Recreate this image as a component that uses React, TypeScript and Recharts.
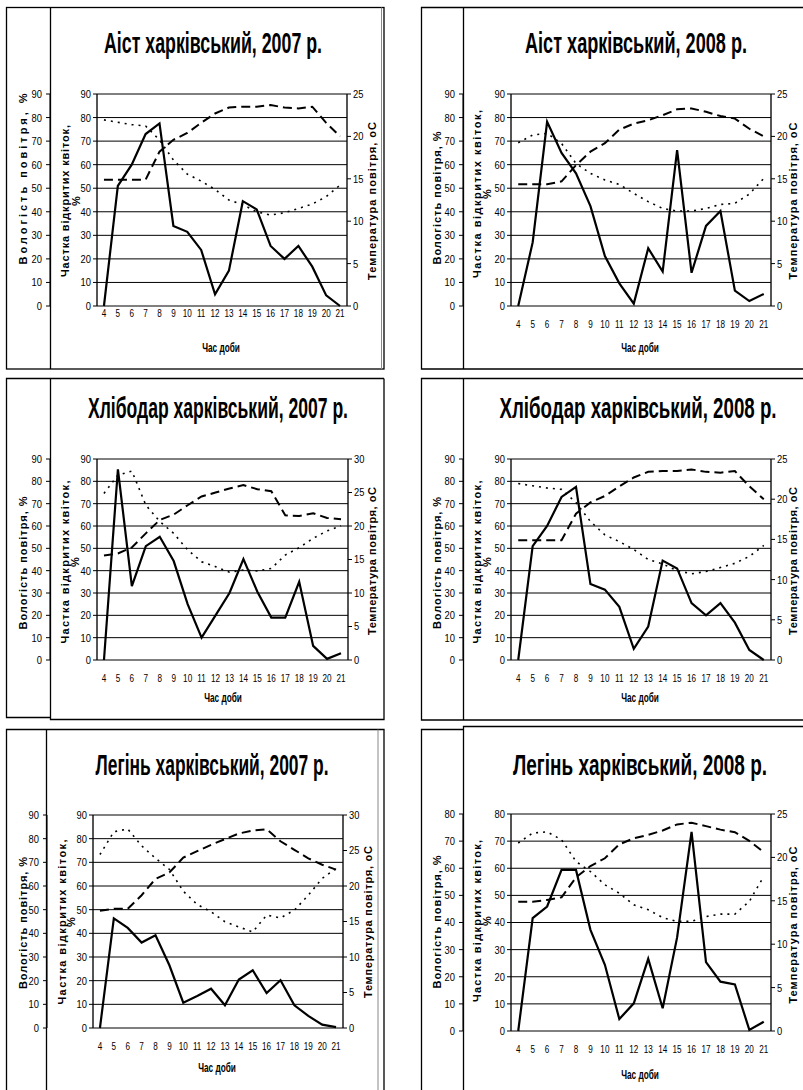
import React from 'react'
import { CartesianGrid, Line, LineChart, XAxis, YAxis } from 'recharts'

// hours of the day (category axis) and the grid boundaries between them
const HOURS = [4, 5, 6, 7, 8, 9, 10, 11, 12, 13, 14, 15, 16, 17, 18, 19, 20, 21]
const HOUR_BOUNDS = [...HOURS.map((h) => h - 0.5), 21.5]

const TICKS_90 = [0, 10, 20, 30, 40, 50, 60, 70, 80, 90]
const TICKS_80 = [0, 10, 20, 30, 40, 50, 60, 70, 80]
const TICKS_25 = [0, 5, 10, 15, 20, 25]
const TICKS_30 = [0, 5, 10, 15, 20, 25, 30]

// Аіст харківський, 2007 (same readings appear for Хлібодар 2008)
const AIST07_FLOWERS = [0, 51, 60, 73, 77.5, 34, 31.5, 23.8, 5, 15, 44.5, 41, 25.5, 20, 25.5, 16.7, 4.5, 0]
const AIST07_HUMIDITY = [79, 78, 77, 76.4, 70.5, 62, 56, 53, 49.5, 45, 43, 40, 38.6, 39.6, 41.4, 43.3, 46.4, 51.3]
const AIST07_TEMP = [14.9, 14.9, 14.9, 14.9, 18.2, 19.6, 20.4, 21.6, 22.7, 23.4, 23.5, 23.5, 23.7, 23.4, 23.3, 23.5, 21.6, 20.0]

// Аіст харківський, 2008
const AIST08_FLOWERS = [0, 27, 78.2, 65, 56.3, 42.4, 21.2, 9.6, 1, 24.5, 14.6, 66.2, 14.1, 34, 40.3, 6.5, 2.1, 5.1]
const AIST08_HUMIDITY = [69.3, 72.6, 73.3, 69, 60.5, 56.3, 53.5, 51.6, 47.8, 44.3, 41.4, 40.3, 40.3, 41.4, 43.1, 43.6, 47.5, 54.2]
const AIST08_TEMP = [14.35, 14.35, 14.35, 14.7, 16.6, 18.2, 19.2, 20.8, 21.5, 21.9, 22.5, 23.2, 23.3, 22.9, 22.4, 22.1, 20.9, 20.0]

// Хлібодар харківський, 2007
const KHLIB07_FLOWERS = [0, 85.4, 33.1, 51, 55.2, 44.3, 25, 10, 20, 30, 45.2, 30.6, 19, 19, 35, 6.3, 0.5, 3]
const KHLIB07_HUMIDITY = [74.6, 82.8, 84.6, 69.4, 62, 56.7, 49.3, 44, 41.8, 39.3, 40.3, 39.9, 41, 47, 50.3, 54.5, 57.8, 60.1]
const KHLIB07_TEMP = [15.6, 15.9, 16.8, 18.9, 20.9, 21.7, 23.1, 24.4, 25.0, 25.6, 26.1, 25.5, 25.2, 21.6, 21.5, 21.9, 21.2, 21.0]

// Легінь харківський, 2007
const LEHIN07_FLOWERS = [0, 46.3, 42.3, 36.1, 39.2, 26.5, 10.7, 13.5, 16.6, 9.6, 20.5, 24.4, 14.8, 20.2, 9.6, 5.1, 1.4, 0.4]
const LEHIN07_HUMIDITY = [73.3, 82.9, 84.1, 77, 71.7, 67, 57.8, 52.2, 49.1, 44.9, 42.7, 40.6, 47.7, 46.5, 49.8, 56.1, 63.2, 67.4]
const LEHIN07_TEMP = [16.5, 16.8, 16.8, 18.7, 21, 21.9, 24, 24.9, 25.8, 26.6, 27.4, 27.8, 28.0, 26.3, 25.1, 23.9, 23.0, 22.3]

// Легінь харківський, 2008
const LEHIN08_FLOWERS = [0, 41.6, 45.9, 59.4, 59.4, 37.3, 24.4, 4.4, 10.2, 26.6, 8.4, 34.5, 73.4, 25.4, 18.2, 17.2, 0.4, 3.4]
const LEHIN08_HUMIDITY = [69.3, 73, 73.4, 70.5, 62.5, 58.8, 53.9, 50.8, 46.5, 44.7, 41.8, 40.4, 40.4, 42.2, 43.1, 43.1, 47.8, 57]
const LEHIN08_TEMP = [14.9, 14.9, 15.1, 15.4, 17.7, 19.0, 19.9, 21.5, 22.2, 22.6, 23.1, 23.8, 24.0, 23.6, 23.2, 22.9, 21.9, 20.6]

const SANS = "'Liberation Sans', Arial, sans-serif"

const PANELS = [
  {
    title: 'Аіст харківський, 2007 р.', flowers: AIST07_FLOWERS, humidity: AIST07_HUMIDITY, temp: AIST07_TEMP,
    leftTicks: TICKS_90, rightTicks: TICKS_25,
    plot: { left: 97, top: 94, right: 347, bottom: 306 }, humX: 50, xGap: 3,
    titlePos: { cx: 213, y: 53, len: 218 }, hum: { x: 23, cy: 179, len: 171 },
    flow: { x: 65, x2: 76, cy: 201, len: 152 }, tmp: { x: 372, cy: 201, len: 158 }, xt: { cx: 221, y: 348 },
  },
  {
    title: 'Аіст харківський, 2008 р.', flowers: AIST08_FLOWERS, humidity: AIST08_HUMIDITY, temp: AIST08_TEMP,
    leftTicks: TICKS_90, rightTicks: TICKS_25,
    plot: { left: 511, top: 94, right: 771, bottom: 306 }, humX: 463, xGap: 14,
    titlePos: { cx: 636, y: 53, len: 222 }, hum: { x: 437, cy: 198, len: 133 },
    flow: { x: 477, x2: 487, cy: 194, len: 168 }, tmp: { x: 793, cy: 201, len: 157 }, xt: { cx: 640, y: 348 },
  },
  {
    title: 'Хлібодар харківський, 2007 р.', flowers: KHLIB07_FLOWERS, humidity: KHLIB07_HUMIDITY, temp: KHLIB07_TEMP,
    leftTicks: TICKS_90, rightTicks: TICKS_30,
    plot: { left: 97, top: 459, right: 348, bottom: 660 }, humX: 50, xGap: 14,
    titlePos: { cx: 218, y: 418, len: 260 }, hum: { x: 23, cy: 563, len: 133 },
    flow: { x: 65, x2: 75, cy: 562, len: 163 }, tmp: { x: 372, cy: 561, len: 148 }, xt: { cx: 223, y: 698 },
  },
  {
    title: 'Хлібодар харківський, 2008 р.', flowers: AIST07_FLOWERS, humidity: AIST07_HUMIDITY, temp: AIST07_TEMP,
    leftTicks: TICKS_90, rightTicks: TICKS_25,
    plot: { left: 511, top: 459, right: 771, bottom: 660 }, humX: 463, xGap: 14,
    titlePos: { cx: 638, y: 418, len: 277 }, hum: { x: 437, cy: 563, len: 132 },
    flow: { x: 477, x2: 487, cy: 562, len: 163 }, tmp: { x: 793, cy: 561, len: 148 }, xt: { cx: 640, y: 698 },
  },
  {
    title: 'Легінь харківський, 2007 р.', flowers: LEHIN07_FLOWERS, humidity: LEHIN07_HUMIDITY, temp: LEHIN07_TEMP,
    leftTicks: TICKS_90, rightTicks: TICKS_30,
    plot: { left: 93, top: 815, right: 343, bottom: 1028 }, humX: 47, xGap: 14,
    titlePos: { cx: 212, y: 775, len: 233 }, hum: { x: 23, cy: 923, len: 132 },
    flow: { x: 62, x2: 71, cy: 922, len: 165 }, tmp: { x: 368, cy: 922, len: 152 }, xt: { cx: 217, y: 1068 },
  },
  {
    title: 'Легінь харківський, 2008 р.', flowers: LEHIN08_FLOWERS, humidity: LEHIN08_HUMIDITY, temp: LEHIN08_TEMP,
    leftTicks: TICKS_80, rightTicks: TICKS_25,
    plot: { left: 511, top: 814, right: 771, bottom: 1031 }, humX: 463, xGap: 14,
    titlePos: { cx: 640, y: 775, len: 254 }, hum: { x: 437, cy: 922, len: 133 },
    flow: { x: 477, x2: 487, cy: 921, len: 162 }, tmp: { x: 793, cy: 925, len: 157 }, xt: { cx: 640, y: 1075 },
  },
]

type PanelCfg = (typeof PANELS)[number]

const HUM_W = 44
const PAD_TOP = 10
const X_H = 40
const RIGHT_W = 30

// Excel-style narrow tick text: regular sans squeezed horizontally
function narrowTick(scaleX: number, dy: string) {
  return (props: any) => {
    const { x, y, payload, textAnchor } = props
    return (
      <text transform={`translate(${x} ${y}) scale(${scaleX} 1)`} textAnchor={textAnchor} dy={dy}
            fontSize={11} fontFamily={SANS} fill="#000">
        {payload.value}
      </text>
    )
  }
}
const X_TICK = narrowTick(0.74, '0.71em')
const Y_TICK = narrowTick(0.85, '0.36em')

function PanelChart({ cfg }: { cfg: PanelCfg }) {
  const { plot, humX } = cfg
  const left = humX - HUM_W
  const top = plot.top - PAD_TOP
  const width = plot.right - left + RIGHT_W
  const height = plot.bottom - plot.top + PAD_TOP + X_H
  const leftMax = cfg.leftTicks[cfg.leftTicks.length - 1]
  const rightMax = cfg.rightTicks[cfg.rightTicks.length - 1]
  const rows = HOURS.map((hour, i) => ({
    hour, flowers: cfg.flowers[i], humidity: cfg.humidity[i], temp: cfg.temp[i],
  }))

  return (
    <div style={{ position: 'absolute', left, top }}>
      <LineChart width={width} height={height} data={rows} margin={{ top: PAD_TOP, right: 0, bottom: 0, left: 0 }}>
        <XAxis xAxisId="grid" dataKey="hour" type="number" domain={[3.5, 21.5]} ticks={HOUR_BOUNDS}
               interval={0} tick={false} height={0} tickSize={4} stroke="#000" />
        <XAxis xAxisId="hours" dataKey="hour" type="number" domain={[3.5, 21.5]} ticks={HOURS}
               interval={0} axisLine={false} tickLine={false} tickSize={0} tickMargin={cfg.xGap}
               height={X_H} tick={X_TICK} />
        <YAxis yAxisId="flowers" domain={[0, leftMax]} ticks={cfg.leftTicks} interval={0}
               width={plot.left - humX} tickSize={4} tickMargin={2} stroke="#000" tick={Y_TICK} />
        <YAxis yAxisId="humidity" domain={[0, leftMax]} ticks={cfg.leftTicks} interval={0}
               width={HUM_W} tickSize={4} tickMargin={4} stroke="#000" tick={Y_TICK} />
        <YAxis yAxisId="temp" orientation="right" domain={[0, rightMax]} ticks={cfg.rightTicks} interval={0}
               width={RIGHT_W} tickSize={4} tickMargin={2} stroke="#000" tick={Y_TICK} />
        <CartesianGrid xAxisId="grid" yAxisId="flowers" horizontal={false} stroke="#555" strokeWidth={1} />
        <CartesianGrid xAxisId="grid" yAxisId="flowers" vertical={false} stroke="#000" strokeWidth={1} />
        <Line xAxisId="hours" yAxisId="humidity" type="linear" dataKey="humidity" stroke="#000"
              strokeWidth={1.6} strokeDasharray="2 5" dot={false} isAnimationActive={false} />
        <Line xAxisId="hours" yAxisId="temp" type="linear" dataKey="temp" stroke="#000"
              strokeWidth={2} strokeDasharray="9 5" dot={false} isAnimationActive={false} />
        <Line xAxisId="hours" yAxisId="flowers" type="linear" dataKey="flowers" stroke="#000"
              strokeWidth={2.2} dot={false} isAnimationActive={false} />
      </LineChart>
    </div>
  )
}

function VText({ x, cy, len, children }: { x: number; cy: number; len?: number; children: React.ReactNode }) {
  return (
    <text x={x} y={cy} transform={`rotate(-90 ${x} ${cy})`} textAnchor="middle" dominantBaseline="central"
          fontFamily={SANS} fontWeight="bold" fontSize={11} textLength={len}
          lengthAdjust={len ? 'spacing' : undefined}>
      {children}
    </text>
  )
}

function Frames() {
  const s = { stroke: '#000', strokeWidth: 1.3, fill: 'none' }
  const g = { stroke: '#888', strokeWidth: 1, fill: 'none' }
  return (
    <g>
      {/* top-left */}
      <rect x={6.5} y={7.5} width={377.5} height={361.5} {...s} />
      <line x1={50.5} y1={7.5} x2={50.5} y2={369} {...s} />
      <line x1={381.5} y1={7.5} x2={381.5} y2={369} {...g} />
      {/* top-right */}
      <polyline points="803,7.5 421.5,7.5 421.5,369 803,369" {...s} />
      <line x1={463.5} y1={7.5} x2={463.5} y2={369} {...s} />
      {/* middle-left */}
      <polyline points="50.5,717.5 6.5,717.5 6.5,378.5 384,378.5" {...s} />
      <polyline points="50.5,378.5 50.5,719.5 384,719.5 384,378.5" {...s} />
      {/* middle-right */}
      <polyline points="803,378.5 421.5,378.5 421.5,720 803,720" {...s} />
      <line x1={463.5} y1={378.5} x2={463.5} y2={720} {...s} />
      {/* bottom-left */}
      <polyline points="6.5,1090 6.5,729.5 384,729.5 384,1090" {...s} />
      <line x1={46.5} y1={729.5} x2={46.5} y2={1090} {...s} />
      <line x1={378} y1={729.5} x2={378} y2={1090} {...g} />
      {/* bottom-right */}
      <polyline points="421.5,1090 421.5,729.5 463.5,729.5" {...s} />
      <polyline points="463.5,1090 463.5,726.5 803,726.5" {...s} />
    </g>
  )
}

export default function App() {
  return (
    <div style={{ position: 'absolute', left: 0, top: 0, width: 803, height: 1090, background: '#fff', overflow: 'hidden' }}>
      <svg width={803} height={1090} style={{ position: 'absolute', left: 0, top: 0 }}>
        <Frames />
        {PANELS.map((p) => (
          <g key={p.title}>
            <text transform={`translate(${p.titlePos.cx} ${p.titlePos.y}) scale(1 1.62)`} textAnchor="middle"
                  fontFamily={SANS} fontWeight="bold" fontSize={18} textLength={p.titlePos.len}
                  lengthAdjust="spacingAndGlyphs">
              {p.title}
            </text>
            <VText x={p.hum.x} cy={p.hum.cy} len={p.hum.len}>Вологість повітря, %</VText>
            <VText x={p.flow.x} cy={p.flow.cy} len={p.flow.len}>Частка відкритих квіток,</VText>
            <VText x={p.flow.x2} cy={p.flow.cy}>%</VText>
            <VText x={p.tmp.x} cy={p.tmp.cy} len={p.tmp.len}>Температура повітря, оС</VText>
            <text transform={`translate(${p.xt.cx} ${p.xt.y}) scale(0.75 1.1)`} textAnchor="middle"
                  dominantBaseline="central" fontFamily={SANS} fontWeight="bold" fontSize={11}>
              Час доби
            </text>
          </g>
        ))}
      </svg>
      {PANELS.map((p) => <PanelChart key={p.title} cfg={p} />)}
    </div>
  )
}
